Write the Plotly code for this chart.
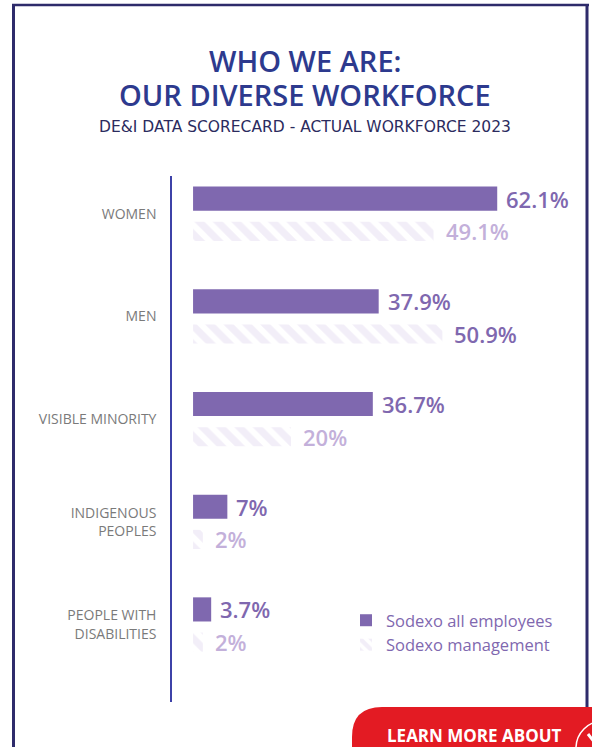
import plotly.graph_objects as go

# ---------------- data ----------------
categories = ["WOMEN", "MEN", "VISIBLE MINORITY", "INDIGENOUS<br>PEOPLES", "PEOPLE WITH<br>DISABILITIES"]
all_employees = [62.1, 37.9, 36.7, 7.0, 3.7]
management = [49.1, 50.9, 20.0, 2.0, 2.0]
series_names = ["Sodexo all employees", "Sodexo management"]
title_lines = ["WHO WE ARE:", "OUR DIVERSE WORKFORCE"]
subtitle = "DE&I DATA SCORECARD - ACTUAL WORKFORCE 2023"
button_text = "LEARN MORE ABOUT"

# ---------------- layout geometry ----------------
W, H = 592, 747
L, R, T, B = 172, 12, 176, 45
PW, PH = W - L - R, H - T - B


def px(x):
    return (x - L) / PW


def py(y):
    return (H - B - y) / PH


PURPLE = "#7F68AF"
LIGHT = "#C3B0DA"
HATCH = "#E6DEF2"
NAVY = "#2E2B6B"
TITLE = "#2D3A8E"
FONT = "Open Sans"

TOP_OFF, TOP_W = -0.265, 0.235
BOT_OFF, BOT_W = 0.078, 0.186


def fmt(v):
    return (f"{v:.1f}".rstrip("0").rstrip(".")) + "%"


fig = go.Figure()
fig.add_trace(go.Bar(
    y=categories, x=all_employees, orientation="h", name=series_names[0],
    offset=TOP_OFF, width=TOP_W,
    marker=dict(color=PURPLE, line=dict(width=0)),
    hoverinfo="skip",
))
fig.add_trace(go.Bar(
    y=categories, x=management, orientation="h", name=series_names[1],
    offset=BOT_OFF, width=BOT_W,
    marker=dict(color="white", line=dict(width=0),
                pattern=dict(shape="\\", fgcolor=HATCH, bgcolor="white", size=13, solidity=0.55)),
    hoverinfo="skip",
))

annotations = []
for i, (a, m) in enumerate(zip(all_employees, management)):
    annotations.append(dict(
        x=a, y=i + TOP_OFF + TOP_W / 2, xref="x", yref="y", text=fmt(a),
        showarrow=False, xanchor="left", yanchor="middle", xshift=7,
        font=dict(family=FONT, size=22, color=PURPLE, weight=600),
    ))
    annotations.append(dict(
        x=m, y=i + BOT_OFF + BOT_W / 2, xref="x", yref="y", text=fmt(m),
        showarrow=False, xanchor="left", yanchor="middle", xshift=10,
        font=dict(family=FONT, size=22, color=PURPLE if m > a else LIGHT, weight=600),
    ))

# titles
annotations.append(dict(x=px(305), y=py(61), xref="paper", yref="paper", text=title_lines[0],
                        showarrow=False, xanchor="center", yanchor="middle", borderpad=0,
                        font=dict(family=FONT, size=29, color=TITLE, weight=600)))
annotations.append(dict(x=px(305), y=py(94), xref="paper", yref="paper", text=title_lines[1],
                        showarrow=False, xanchor="center", yanchor="middle", borderpad=0,
                        font=dict(family=FONT, size=29, color=TITLE, weight=600)))
annotations.append(dict(x=px(305), y=py(127), xref="paper", yref="paper", text=subtitle,
                        showarrow=False, xanchor="center", yanchor="middle",
                        font=dict(family="DejaVu Sans", size=15.5, color="#2B2B5E")))
# button text
annotations.append(dict(x=px(474), y=py(735), xref="paper", yref="paper", text=button_text,
                        showarrow=False, xanchor="center", yanchor="middle",
                        font=dict(family=FONT, size=17, color="white", weight=700)))

shapes = []
# frame
shapes.append(dict(type="line", xref="paper", yref="paper", x0=px(13.5), x1=px(13.5), y0=py(4), y1=py(760),
                   line=dict(color=NAVY, width=3)))
shapes.append(dict(type="line", xref="paper", yref="paper", x0=px(12), x1=px(589), y0=py(5), y1=py(5),
                   line=dict(color=NAVY, width=2.5)))
shapes.append(dict(type="line", xref="paper", yref="paper", x0=px(587), x1=px(587), y0=py(4), y1=py(720),
                   line=dict(color=NAVY, width=3)))
# red button
path = (f"M {px(352)},{py(770)} L {px(352)},{py(737)} Q {px(352)},{py(707)} {px(382)},{py(707)} "
        f"L {px(620)},{py(707)} L {px(620)},{py(770)} Z")
shapes.append(dict(type="path", xref="paper", yref="paper", path=path,
                   fillcolor="#E31B23", line=dict(width=0)))
shapes.append(dict(type="circle", xref="paper", yref="paper", x0=px(576), x1=px(630), y0=py(721), y1=py(775),
                   line=dict(color="white", width=1.5)))
shapes.append(dict(type="path", xref="paper", yref="paper",
                   path=f"M {px(588)},{py(734)} L {px(595)},{py(743)} L {px(602)},{py(734)}",
                   line=dict(color="white", width=3)))

fig.update_layout(
    width=W, height=H,
    margin=dict(l=L, r=R, t=T, b=B),
    paper_bgcolor="white", plot_bgcolor="white",
    barmode="overlay",
    showlegend=True,
    legend=dict(x=px(346), y=py(603), xanchor="left", yanchor="top", traceorder="normal",
                font=dict(family=FONT, size=16.5, color=PURPLE), bgcolor="rgba(0,0,0,0)",
                itemwidth=30, tracegroupgap=0),
    xaxis=dict(range=[-4.3, 79], visible=False, fixedrange=True),
    yaxis=dict(type="category", categoryorder="array", categoryarray=categories,
               range=[4.754, -0.368], showgrid=False, zeroline=False,
               showline=True, linecolor="#3D42A8", linewidth=1.5,
               ticks="", ticklabelstandoff=11,
               tickfont=dict(family=FONT, size=14, color="#7A7A7A")),
    annotations=annotations,
    shapes=shapes,
)

fig.write_html("out.html")
